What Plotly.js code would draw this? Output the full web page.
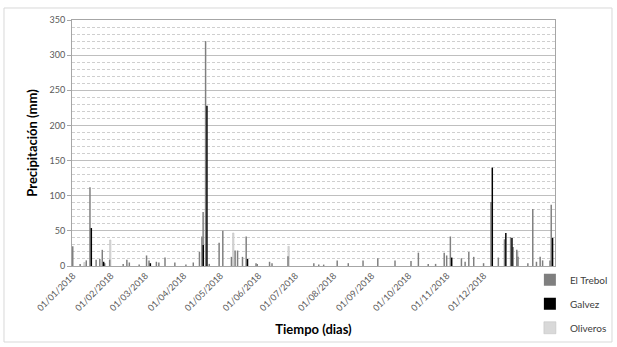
<!DOCTYPE html>
<html>
<head>
<meta charset="utf-8">
<script src="https://cdn.plot.ly/plotly-3.0.1.min.js"></script>
<style>html,body{margin:0;padding:0;background:#fff;}#chart{width:617px;height:347px;}</style>
</head>
<body>
<div id="chart"></div>
<script>
// ---- Data ----
const trebolDates = ["2018-01-01","2018-01-07","2018-01-12","2018-01-15","2018-01-20","2018-01-23","2018-01-25","2018-01-27","2018-01-31",
  "2018-02-11","2018-02-14","2018-02-16","2018-02-24","2018-03-02","2018-03-04","2018-03-10","2018-03-12","2018-03-17","2018-03-25",
  "2018-04-03","2018-04-09","2018-04-14","2018-04-16","2018-04-17","2018-04-19","2018-04-22","2018-04-30","2018-05-03","2018-05-10",
  "2018-05-13","2018-05-15","2018-05-19","2018-05-22","2018-05-30","2018-05-31","2018-06-10","2018-06-12","2018-06-25","2018-07-16",
  "2018-07-20","2018-07-24","2018-08-04","2018-08-13","2018-08-25","2018-09-06","2018-09-20","2018-10-03","2018-10-09","2018-10-17",
  "2018-10-23","2018-10-30","2018-11-01","2018-11-04","2018-11-13","2018-11-16","2018-11-19","2018-11-23","2018-12-01","2018-12-07",
  "2018-12-13","2018-12-18","2018-12-23","2018-12-25","2018-12-28","2018-12-29","2019-01-06","2019-01-10","2019-01-13","2019-01-16",
  "2019-01-18","2019-01-24","2019-01-25"];
const trebolValues = [28,3,8,112,9,10,23,4,9,
  3,9,5,2,15,8,6,5,12,5,
  2,5,20,42,77,320,3,33,50,13,
  22,22,13,42,4,3,6,4,14,4,
  2,2,8,4,8,11,8,7,19,3,
  3,19,15,42,11,6,20,13,4,91,
  12,38,41,27,23,13,4,81,6,13,
  8,8,87];

const galvezDates = ["2018-01-15","2018-01-25","2018-03-04","2018-04-16","2018-04-19","2018-05-22","2018-11-04","2018-12-07","2018-12-18","2018-12-23","2019-01-25"];
const galvezValues = [54,6,4,30,228,10,12,140,47,40,40];

const oliverosDates = ["2018-01-10","2018-01-31","2018-05-11","2018-06-25","2018-12-28","2019-01-25"];
const oliverosValues = [5,37,47,28,20,25];

const tickDates = ["2018-01-01","2018-02-01","2018-03-01","2018-04-01","2018-05-01","2018-06-01","2018-07-01","2018-08-01","2018-09-01","2018-10-01","2018-11-01","2018-12-01"];
const tickLabels = ["01/01/2018","01/02/2018","01/03/2018","01/04/2018","01/05/2018","01/06/2018","01/07/2018","01/08/2018","01/09/2018","01/10/2018","01/11/2018","01/12/2018"];

// ---- Chart ----
const DAY = 86400000;
const FONT = "Lato, 'Open Sans', sans-serif";

const traces = [
  {type:'bar', name:'Oliveros', x:oliverosDates, y:oliverosValues, legendrank:3, legendgroup:'c',
   width:1.2*DAY, offset:-0.3*DAY, marker:{color:'#d9d9d9', line:{color:'#bfbfbf', width:0.5}}},
  {type:'bar', name:'El Trebol', x:trebolDates, y:trebolValues, legendrank:1, legendgroup:'a',
   width:1.2*DAY, offset:-0.8*DAY, marker:{color:'#7f7f7f', line:{width:0}}},
  {type:'bar', name:'Galvez', x:galvezDates, y:galvezValues, legendrank:2, legendgroup:'b',
   width:1.2*DAY, offset:0.3*DAY, marker:{color:'#000000', line:{width:0}}}
];

const layout = {
  width:617, height:347,
  margin:{l:72, r:62, t:20, b:81, autoexpand:false},
  paper_bgcolor:'#ffffff', plot_bgcolor:'#ffffff',
  font:{family:FONT, color:'#595959', size:9},
  barmode:'overlay',
  showlegend:true,
  legend:{x:0.948, xanchor:'left', y:0.003, yanchor:'top', font:{size:10, color:'#404040'},
          tracegroupgap:5, bgcolor:'rgba(0,0,0,0)', itemwidth:30},
  xaxis:{type:'date', range:['2017-12-31 04:30','2019-01-27 21:00'], autorange:false,
         tickvals:tickDates, ticktext:tickLabels, tickangle:-45,
         tickfont:{size:9, color:'#595959'},
         showgrid:false, zeroline:false, showline:true, mirror:true, linecolor:'#a6a6a6', linewidth:1,
         ticks:'', automargin:false,
         title:{text:'Tiempo (dias)', font:{size:13, color:'#000000', family:FONT, weight:'bold'}, standoff:12}},
  yaxis:{range:[0,350], autorange:false, dtick:50, tick0:0,
         tickfont:{size:9, color:'#595959'},
         showgrid:true, gridcolor:'#bfbfbf', gridwidth:1,
         minor:{dtick:10, showgrid:true, gridcolor:'#cfcfcf', griddash:'3px,2px', ticks:''},
         zeroline:false, showline:true, mirror:true, linecolor:'#a6a6a6', linewidth:1,
         ticks:'outside', ticklen:4, tickcolor:'#a6a6a6', automargin:false,
         title:{text:'Precipitación (mm)', font:{size:13, color:'#000000', family:FONT, weight:'bold'}, standoff:8}},
  shapes:[{type:'rect', xref:'paper', yref:'paper', x0:-0.1408, x1:1.118, y0:-0.309, y1:1.0488,
           line:{color:'#d9d9d9', width:1}, fillcolor:'rgba(0,0,0,0)', layer:'below'}]
};

Plotly.newPlot('chart', traces, layout, {staticPlot:true, displayModeBar:false});
</script>
</body>
</html>
